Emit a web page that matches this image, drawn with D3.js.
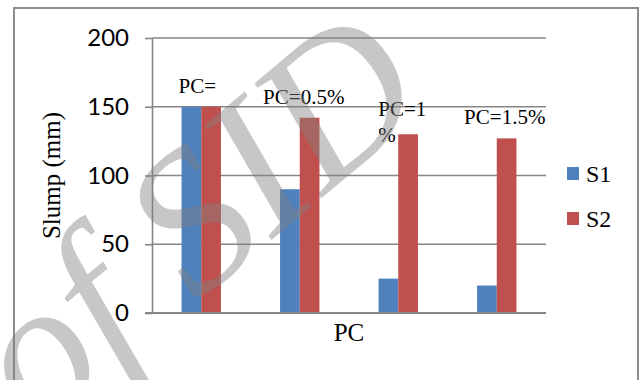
<!DOCTYPE html>
<html>
<head>
<meta charset="utf-8">
<script src="https://cdn.jsdelivr.net/npm/d3@7"></script>
<style>
  html, body { margin: 0; padding: 0; background: #fff; }
  svg { display: block; }
  .serif { font-family: "Liberation Serif", Tinos, "DejaVu Serif", serif; }
</style>
</head>
<body>
<svg id="chart" width="643" height="380"></svg>
<script>
// Slump of the two mixes for each PC dosage
const categories = ["PC=0%", "PC=0.5%", "PC=1%", "PC=1.5%"];
const seriesNames = ["S1", "S2"];
const s1Values = [150, 90, 25, 20];
const s2Values = [150, 142, 130, 127];
const yTicks = [0, 50, 100, 150, 200];
// Text lines shown above each group
const groupLabels = [["PC="], ["PC=0.5%"], ["PC=1", "%"], ["PC=1.5%"]];

const colors = { S1: "#4F81BD", S2: "#C0504D" };
const gridColor = "#868686";
const sans = "Lato, 'Open Sans', sans-serif";

const svg = d3.select("#chart");

// outer chart frame
svg.append("rect")
  .attr("x", 14).attr("y", 8)
  .attr("width", 624).attr("height", 420)
  .attr("fill", "#fff")
  .attr("stroke", "#8c8c8c").attr("stroke-width", 2);

const plot = { left: 152, right: 546, top: 38, bottom: 313 };

const y = d3.scaleLinear().domain([0, 200]).range([plot.bottom, plot.top]);
const x0 = d3.scaleBand().domain(categories).range([plot.left, plot.right]).paddingInner(0).paddingOuter(0);
const x1 = d3.scaleBand().domain(seriesNames)
  .range([x0.bandwidth() * 0.3, x0.bandwidth() * 0.7]);

// horizontal gridlines
svg.append("g").selectAll("line")
  .data(yTicks.filter(d => d > 0))
  .join("line")
  .attr("x1", plot.left).attr("x2", plot.right)
  .attr("y1", d => y(d)).attr("y2", d => y(d))
  .attr("stroke", gridColor).attr("stroke-width", 1.6);

// bars
const rows = categories.map((c, i) => ({ cat: c, S1: s1Values[i], S2: s2Values[i] }));
const groups = svg.append("g").selectAll("g")
  .data(rows)
  .join("g")
  .attr("transform", d => `translate(${x0(d.cat)},0)`);
groups.selectAll("rect")
  .data(d => seriesNames.map(s => ({ key: s, value: d[s] })))
  .join("rect")
  .attr("x", d => x1(d.key))
  .attr("width", x1.bandwidth())
  .attr("y", d => y(d.value))
  .attr("height", d => y(0) - y(d.value))
  .attr("fill", d => colors[d.key]);

// y axis
const yAxis = svg.append("g")
  .attr("transform", `translate(${plot.left},0)`)
  .call(d3.axisLeft(y).tickValues(yTicks).tickSize(7).tickSizeOuter(0).tickPadding(16));
yAxis.select(".domain").attr("stroke", gridColor).attr("stroke-width", 1.6);
yAxis.selectAll(".tick line").attr("stroke", gridColor).attr("stroke-width", 1.6);
yAxis.selectAll(".tick text")
  .attr("font-family", sans).attr("font-size", 24).attr("fill", "#000");

// x axis baseline
svg.append("line")
  .attr("x1", plot.left - 7).attr("x2", plot.right)
  .attr("y1", y(0)).attr("y2", y(0))
  .attr("stroke", gridColor).attr("stroke-width", 1.8);

// group labels sit above the S2 bar of each group
const labelNudge = [-4, 4, 4, 8];
const labelG = svg.append("g").attr("class", "serif")
  .attr("font-size", 21).attr("fill", "#000");
groupLabels.forEach((lines, i) => {
  const cx = x0(categories[i]) + x0.bandwidth() / 2 + labelNudge[i];
  const baseY = y(s2Values[i]) - 14;
  const t = labelG.append("text")
    .attr("x", cx).attr("y", baseY)
    .attr("text-anchor", lines.length > 1 ? "start" : "middle");
  if (lines.length > 1) {
    lines.forEach((ln, j) => {
      t.append("tspan").attr("x", cx - 24).attr("dy", j === 0 ? -4 : 26).text(ln);
    });
  } else {
    t.text(lines[0]);
  }
});

// axis titles
svg.append("text").attr("class", "serif")
  .attr("x", (plot.left + plot.right) / 2).attr("y", 341)
  .attr("text-anchor", "middle")
  .attr("font-size", 25)
  .text("PC");
svg.append("text").attr("class", "serif")
  .attr("transform", `translate(60,${(plot.top + plot.bottom) / 2}) rotate(-90)`)
  .attr("text-anchor", "middle")
  .attr("font-size", 25)
  .text("Slump (mm)");

// legend
const legend = svg.append("g").selectAll("g")
  .data(seriesNames)
  .join("g")
  .attr("transform", (d, i) => `translate(567,${167 + i * 45})`);
legend.append("rect")
  .attr("width", 12).attr("height", 13)
  .attr("fill", d => colors[d]);
legend.append("text").attr("class", "serif")
  .attr("x", 19).attr("y", 6.5).attr("dy", "0.35em")
  .attr("font-size", 24)
  .text(d => d);

// translucent diagonal watermark over the whole figure
svg.append("text").attr("class", "serif")
  .attr("transform", "translate(38,436) rotate(-40)")
  .attr("font-style", "italic")
  .attr("font-size", 200)
  .attr("fill", "#808080").attr("fill-opacity", 0.44)
  .text("of SID");
</script>
</body>
</html>
